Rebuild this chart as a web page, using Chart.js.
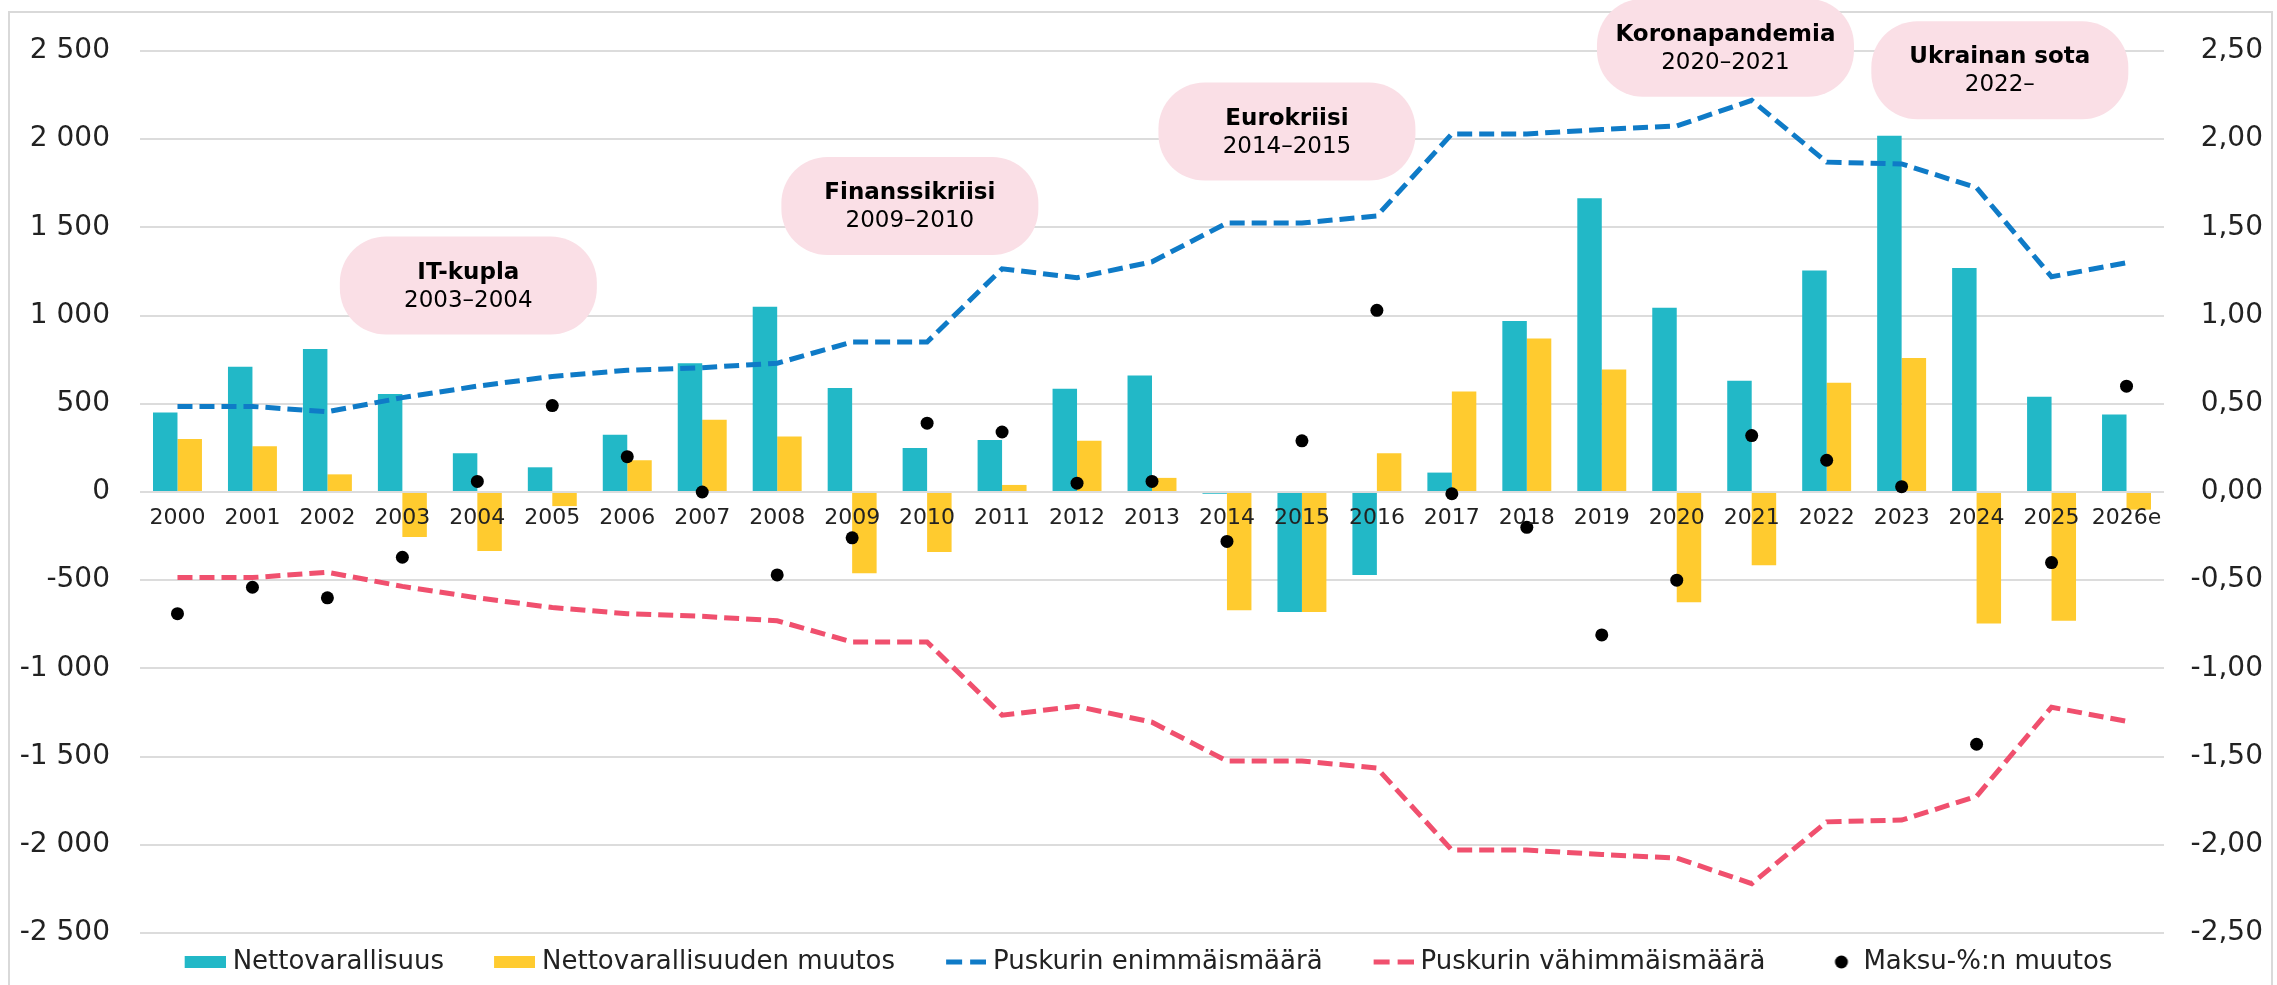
<!DOCTYPE html>
<html lang="fi">
<head>
<meta charset="utf-8">
<title>Nettovarallisuus ja puskurin rajat</title>
<script src="https://cdn.jsdelivr.net/npm/chart.js@4.4.1/dist/chart.umd.min.js"></script>
<style>
  html, body { margin: 0; padding: 0; background: #fff; }
  #wrap { position: relative; width: 2277px; height: 985px; }
</style>
</head>
<body>
<div id="wrap"><canvas id="chart"></canvas></div>
<script>
// --- data ---
const years = ['2000', '2001', '2002', '2003', '2004', '2005', '2006', '2007', '2008', '2009',
    '2010', '2011', '2012', '2013', '2014', '2015', '2016', '2017', '2018', '2019',
    '2020', '2021', '2022', '2023', '2024', '2025', '2026e'];

const nettovarallisuus = [450, 710, 810, 555, 220, 140, 325, 730, 1050, 590,
    250, 295, 585, 660, -10, -680, -470, 110, 970, 1665,
    1045, 630, 1255, 2020, 1270, 540, 440];

const nettovarallisuudenMuutos = [300, 260, 100, -255, -335, -80, 180, 410, 315, -460,
    -340, 40, 290, 80, -670, -680, 220, 570, 870, 695,
    -625, -415, 620, 760, -745, -730, -100];

const puskuriMax = [485, 485, 455, 535, 600, 655, 690, 705, 730, 850,
    850, 1265, 1215, 1305, 1525, 1525, 1565, 2030, 2030, 2055,
    2075, 2220, 1870, 1860, 1725, 1220, 1300];

const puskuriMin = [-485, -485, -455, -535, -600, -655, -690, -705, -730, -850,
    -850, -1265, -1215, -1305, -1525, -1525, -1565, -2030, -2030, -2055,
    -2075, -2220, -1870, -1860, -1725, -1220, -1300];

const maksuMuutos = [-0.69, -0.54, -0.60, -0.37, 0.06, 0.49, 0.20, 0.00, -0.47, -0.26,
    0.39, 0.34, 0.05, 0.06, -0.28, 0.29, 1.03, -0.01, -0.20, -0.81,
    -0.50, 0.32, 0.18, 0.03, -1.43, -0.40, 0.60];

const seriesNames = ['Nettovarallisuus', 'Nettovarallisuuden muutos', 'Puskurin enimmäismäärä',
    'Puskurin vähimmäismäärä', 'Maksu-%:n muutos'];

const crisisNames = ['IT-kupla', 'Finanssikriisi', 'Eurokriisi', 'Koronapandemia', 'Ukrainan sota'];
const crisisYears = ['2003–2004', '2009–2010', '2014–2015', '2020–2021', '2022–'];

// --- look ---
const TEAL = '#22b8c7';
const YELLOW = '#ffcb2f';
const BLUE = '#0f7bc7';
const RED = '#f0506e';
const TEXT = '#222222';
const GRID = '#dcdcdc';
const PINK = '#fadfe6';

Chart.defaults.font.family = "'DejaVu Sans', Verdana, sans-serif";
Chart.defaults.color = TEXT;

// crisis boxes: centre given as [category index, left axis value]
const crisisAnchor = [[3.88, 1170], [9.77, 1621], [14.8, 2043], [20.65, 2518], [24.31, 2391]];

function fmtThousands(v) {
    const s = Math.abs(v).toString().replace(/\B(?=(\d{3})+(?!\d))/g, ' ');
    return (v < 0 ? '-' : '') + s;
}

// legend marks are small canvases; they are a bit wider than the legend box
// so the mark sits close to its text like in the original
function legendSymbol(kind, color) {
    const c = document.createElement('canvas');
    c.width = 81;
    c.height = 16;
    const g = c.getContext('2d');
    g.fillStyle = color;
    if (kind === 'box') {
        g.fillRect(40, 2, 41, 12);
    } else if (kind === 'dash') {
        g.fillRect(41, 5.5, 16, 5);
        g.fillRect(65, 5.5, 16, 5);
    } else {
        g.beginPath();
        g.arc(66, 8, 6.5, 0, Math.PI * 2);
        g.fill();
    }
    return c;
}

const legendSymbols = [
    legendSymbol('box', TEAL),
    legendSymbol('box', YELLOW),
    legendSymbol('dash', BLUE),
    legendSymbol('dash', RED),
    legendSymbol('dot', '#000')
];

const framePlugin = {
    id: 'frame',
    beforeDraw(chart) {
        const ctx = chart.ctx;
        ctx.save();
        ctx.fillStyle = '#fff';
        ctx.fillRect(0, 0, chart.width, chart.height);
        ctx.strokeStyle = '#d9d9d9';
        ctx.lineWidth = 2;
        ctx.strokeRect(9, 12, chart.width - 14, chart.height + 20);
        ctx.restore();
    }
};

const crisisPlugin = {
    id: 'crisisLabels',
    afterDatasetsDraw(chart) {
        const { ctx, scales: { x, y } } = chart;
        ctx.save();
        crisisNames.forEach((name, i) => {
            const cx = x.getPixelForValue(crisisAnchor[i][0]);
            const cy = y.getPixelForValue(crisisAnchor[i][1]);
            const w = 257, h = 98;
            ctx.fillStyle = PINK;
            ctx.beginPath();
            ctx.roundRect(cx - w / 2, cy - h / 2, w, h, 46);
            ctx.fill();
            ctx.fillStyle = '#000';
            ctx.textAlign = 'center';
            ctx.textBaseline = 'middle';
            ctx.font = "bold 23px 'DejaVu Sans', Verdana, sans-serif";
            ctx.fillText(name, cx, cy - 13);
            ctx.font = "23px 'DejaVu Sans', Verdana, sans-serif";
            ctx.fillText(crisisYears[i], cx, cy + 15);
        });
        ctx.restore();
    }
};

const dashedLine = (label, data, color) => ({
    type: 'line',
    label,
    data,
    yAxisID: 'y',
    borderColor: color,
    backgroundColor: color,
    borderWidth: 5,
    borderDash: [15, 7],
    pointRadius: 0,
    pointHoverRadius: 0,
    tension: 0,
    fill: false,
    order: 1
});

new Chart(document.getElementById('chart'), {
    type: 'bar',
    data: {
        labels: years,
        datasets: [
            {
                label: seriesNames[0],
                data: nettovarallisuus,
                backgroundColor: TEAL,
                yAxisID: 'y',
                categoryPercentage: 0.653,
                barPercentage: 1,
                order: 2
            },
            {
                label: seriesNames[1],
                data: nettovarallisuudenMuutos,
                backgroundColor: YELLOW,
                yAxisID: 'y',
                categoryPercentage: 0.653,
                barPercentage: 1,
                order: 2
            },
            dashedLine(seriesNames[2], puskuriMax, BLUE),
            dashedLine(seriesNames[3], puskuriMin, RED),
            {
                type: 'line',
                label: seriesNames[4],
                data: maksuMuutos,
                yAxisID: 'y1',
                showLine: false,
                pointRadius: 6.5,
                pointHoverRadius: 6.5,
                pointBackgroundColor: '#000',
                pointBorderWidth: 0,
                order: 0
            }
        ]
    },
    options: {
        responsive: true,
        maintainAspectRatio: false,
        animation: false,
        events: [],
        layout: { padding: { top: 51, right: 14, bottom: 0, left: 0 } },
        scales: {
            x: {
                position: { y: 0 },
                offset: true,
                grid: { display: false, drawTicks: false },
                border: { display: false },
                ticks: { z: 1, font: { size: 22 }, color: TEXT, padding: 13, maxRotation: 0, autoSkip: false }
            },
            y: {
                position: 'left',
                min: -2500,
                max: 2500,
                ticks: { stepSize: 500, font: { size: 28 }, color: TEXT, padding: 30, callback: v => fmtThousands(v) },
                grid: { color: GRID, lineWidth: 2, drawTicks: false },
                border: { display: false },
                afterFit(scale) { scale.width = 140; }
            },
            y1: {
                position: 'right',
                min: -2.5,
                max: 2.5,
                ticks: {
                    stepSize: 0.5, font: { size: 28 }, color: TEXT, crossAlign: 'far', padding: 0,
                    callback: v => v.toFixed(2).replace('.', ',')
                },
                grid: { display: false, drawTicks: false },
                border: { display: false },
                afterFit(scale) { scale.width = 99; }
            }
        },
        plugins: {
            tooltip: { enabled: false },
            legend: {
                position: 'bottom',
                labels: {
                    usePointStyle: true,
                    pointStyleWidth: 69,
                    padding: 16,
                    font: { size: 26 },
                    color: TEXT,
                    generateLabels: chart => chart.data.datasets.map((ds, i) => ({
                        text: ds.label,
                        pointStyle: legendSymbols[i],
                        fillStyle: 'rgba(0,0,0,0)',
                        strokeStyle: 'rgba(0,0,0,0)',
                        lineWidth: 0,
                        hidden: false,
                        datasetIndex: i,
                        fontColor: TEXT
                    }))
                }
            }
        }
    },
    plugins: [framePlugin, crisisPlugin]
});
</script>
</body>
</html>
